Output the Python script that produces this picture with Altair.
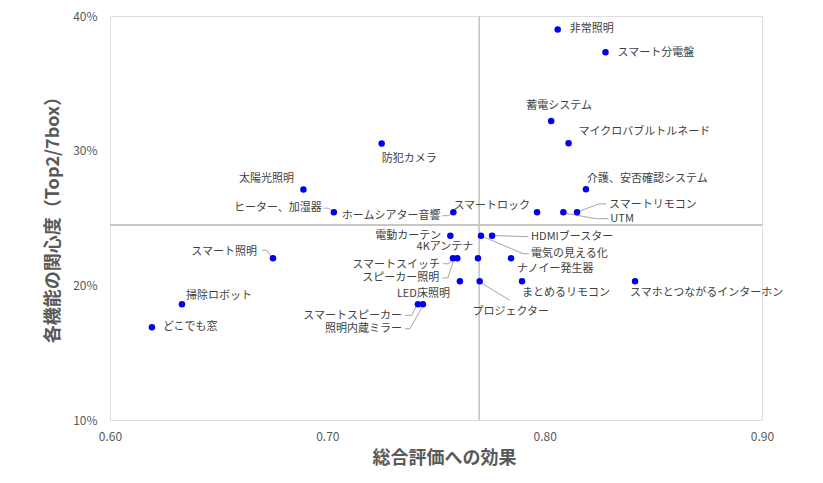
import altair as alt
import pandas as pd

# ---- data ----
names = [
    "非常照明", "スマート分電盤", "蓄電システム", "マイクロバブルトルネード", "防犯カメラ",
    "介護、安否確認システム", "太陽光照明", "ヒーター、加湿器", "ホームシアター音響", "スマートロック",
    "UTM", "スマートリモコン", "電動カーテン", "電気の見える化", "HDMIブースター",
    "スマートスイッチ", "スピーカー照明", "4Kアンテナ", "ナノイー発生器", "スマート照明",
    "LED床照明", "プロジェクター", "まとめるリモコン", "スマホとつながるインターホン", "掃除ロボット",
    "スマートスピーカー", "照明内蔵ミラー", "どこでも窓",
]
effect = [
    0.806, 0.828, 0.803, 0.811, 0.725,
    0.819, 0.689, 0.703, 0.758, 0.7965,
    0.8086, 0.8149, 0.7566, 0.7707, 0.7758,
    0.7578, 0.7598, 0.7693, 0.7845, 0.675,
    0.761, 0.7701, 0.7896, 0.8416, 0.6331,
    0.7417, 0.744, 0.6193,
]
interest = [
    0.390, 0.373, 0.322, 0.3055, 0.3053,
    0.2713, 0.2711, 0.2543, 0.2543, 0.2543,
    0.2543, 0.2543, 0.2369, 0.2369, 0.2369,
    0.2201, 0.2201, 0.2201, 0.2201, 0.2201,
    0.2031, 0.2031, 0.2031, 0.2031, 0.1859,
    0.1859, 0.1859, 0.1688,
]
ref_x = 0.77    # vertical reference line
ref_y = 0.2446  # horizontal reference line
x_ticks = [0.6, 0.7, 0.8, 0.9]
y_ticks = [0.1, 0.2, 0.3, 0.4]

# ---- label layout (style): align, dx, dy in pixels ----
label_layout = {
    "非常照明": ("left", 12, 0),
    "スマート分電盤": ("left", 12, 1),
    "蓄電システム": ("center", 8, -15),
    "マイクロバブルトルネード": ("left", 10, -11),
    "防犯カメラ": ("left", 0, 15),
    "介護、安否確認システム": ("left", 1, -10),
    "太陽光照明": ("center", -37, -11),
    "ヒーター、加湿器": ("right", -12, -4),
    "ホームシアター音響": ("right", -13, 3.5),
    "スマートロック": ("right", -7, -6.6),
    "UTM": ("left", 47, 7),
    "スマートリモコン": ("left", 32, -7),
    "電動カーテン": ("right", -9, 0),
    "電気の見える化": ("left", 50, 18.7),
    "HDMIブースター": ("left", 39, 1),
    "スマートスイッチ": ("right", -13, 6.4),
    "スピーカー照明": ("right", -18, 20),
    "4Kアンテナ": ("center", -33, -11),
    "ナノイー発生器": ("left", 6, 11),
    "スマート照明": ("right", -16, -6),
    "LED床照明": ("right", -10, 12.7),
    "プロジェクター": ("center", 31, 31),
    "まとめるリモコン": ("left", 0, 12),
    "スマホとつながるインターホン": ("left", -5, 12),
    "掃除ロボット": ("left", 4, -8.6),
    "スマートスピーカー": ("right", -16, 12),
    "照明内蔵ミラー": ("right", -21, 25),
    "どこでも窓": ("left", 11, 0),
}
# leader line segments (style): name, start dx, dy, end dx, dy
leaders = [
    ("ヒーター、加湿器", -10, -4, -5, -4), ("ヒーター、加湿器", -5, -4, -2, -1),
    ("ホームシアター音響", -11, 3.5, -5, 3.5), ("ホームシアター音響", -5, 3.5, -2, 1),
    ("スマート照明", -11, -8, -6.5, -8), ("スマート照明", -6.5, -8, -2, -2),
    ("スマートスイッチ", -10, 5.5, -4, 5.5), ("スマートスイッチ", -4, 5.5, -1, 2),
    ("スピーカー照明", -15, 19.7, -9.5, 19.7), ("スピーカー照明", -9.5, 19.7, -3.4, 1.4),
    ("スマートスピーカー", -13, 11, -6, 11), ("スマートスピーカー", -6, 11, -2, 2),
    ("照明内蔵ミラー", -18, 24.4, -13, 24.4), ("照明内蔵ミラー", -13, 24.4, -1, 3),
    ("HDMIブースター", 2, 0, 36, 1),
    ("電気の見える化", 2, 1, 42, 18), ("電気の見える化", 42, 18, 48, 18),
    ("プロジェクター", 2, 2, 30, 19),
    ("スマートリモコン", 2, -1, 22, -8.3), ("スマートリモコン", 22, -8.3, 29, -8.3),
    ("UTM", 2, 1, 33, 6.5), ("UTM", 33, 6.5, 45, 6.5),
]

FONT = "Noto Sans CJK JP"

df = pd.DataFrame({"name": names, "effect": effect, "interest": interest})
df["align"] = [label_layout[n][0] for n in names]
df["dx"] = [label_layout[n][1] for n in names]
df["dy"] = [label_layout[n][2] for n in names]

pos = {n: (e, i) for n, e, i in zip(names, effect, interest)}
ld = pd.DataFrame(leaders, columns=["name", "sx", "sy", "ex", "ey"])
ld["effect"] = [pos[n][0] for n in ld["name"]]
ld["interest"] = [pos[n][1] for n in ld["name"]]

xscale = alt.Scale(domain=[0.6, 0.9], nice=False, zero=False)
yscale = alt.Scale(domain=[0.1, 0.4], nice=False, zero=False)

X = alt.X(
    "effect:Q", scale=xscale,
    axis=alt.Axis(
        title="総合評価への効果", values=x_ticks, format=".2f", grid=False, ticks=False,
        domain=False, labelFlush=False, labelPadding=11, labelColor="#595959",
        labelFontSize=12, labelFont=FONT, titleFont=FONT, titleFontSize=18,
        titleFontWeight="bold", titleColor="#595959", titleX=334, titleY=38,
        titleBaseline="middle",
    ),
)
Y = alt.Y(
    "interest:Q", scale=yscale,
    axis=alt.Axis(
        title="各機能の関心度（Top2/7box）", values=y_ticks, format=".0%", grid=False,
        ticks=False, domain=False, labelFlush=False, labelPadding=13,
        labelColor="#595959", labelFontSize=12, labelFont=FONT, titleFont=FONT,
        titleFontSize=18, titleFontWeight="bold", titleColor="#595959",
        titleX=-57, titleY=199, titleBaseline="middle",
    ),
)

base = alt.Chart(df)

vline = alt.Chart(df).mark_rule(color="#c8c8c8", strokeWidth=1).encode(
    x=alt.datum(ref_x, scale=xscale)
)
hline = alt.Chart(df).mark_rule(color="#c8c8c8", strokeWidth=1).encode(
    y=alt.datum(ref_y, scale=yscale)
)

leader_lines = alt.Chart(ld).mark_rule(
    color="#a6a6a6", strokeWidth=1,
    xOffset=alt.expr("datum.sx"), yOffset=alt.expr("datum.sy"),
    x2Offset=alt.expr("datum.ex"), y2Offset=alt.expr("datum.ey"),
).encode(
    x=alt.X("effect:Q", scale=xscale),
    y=alt.Y("interest:Q", scale=yscale),
    x2="effect:Q",
    y2="interest:Q",
)

points = base.mark_circle(size=42, color="#0000ee", opacity=1).encode(x=X, y=Y)

labels = base.mark_text(
    font=FONT, fontSize=11, color="#404040", baseline="middle",
    align=alt.expr("datum.align"), dx=alt.expr("datum.dx"), dy=alt.expr("datum.dy"),
).encode(
    x=alt.X("effect:Q", scale=xscale),
    y=alt.Y("interest:Q", scale=yscale),
    text="name:N",
)

chart = alt.layer(vline, hline, leader_lines, points, labels).properties(
    width=652,
    height=404,
    padding={"left": 102, "top": 8, "right": 45, "bottom": 55},
    autosize=alt.AutoSizeParams(type="none"),
).configure_view(stroke="black", strokeWidth=1).configure(background="white")

chart.save("out.html", embed_options={"renderer": "svg", "actions": False})
